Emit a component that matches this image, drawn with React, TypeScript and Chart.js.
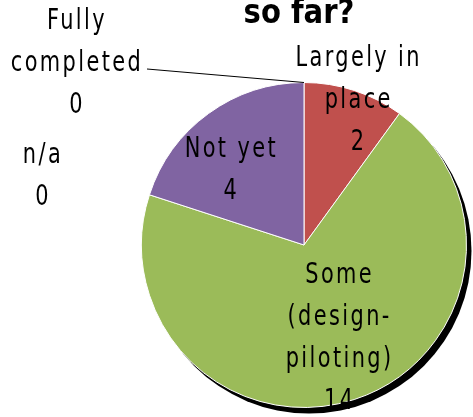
import React, { useEffect, useRef } from "react";
import { Chart, registerables } from "chart.js";

Chart.register(...registerables);

const categories = ["Fully completed", "Largely in place", "Some (design-piloting)", "Not yet", "n/a"];
const values = [0, 2, 14, 4, 0];
const labelLines = [
  ["Fully", "completed", "0"],
  ["Largely in", "place", "2"],
  ["Some", "(design-", "piloting)", "14"],
  ["Not yet", "4"],
  ["n/a", "0"],
];
const colors = ["#4F81BD", "#C0504D", "#9BBB59", "#8064A2", "#4BACC6"];
const titleText = "so far?";

const LABEL_FONT = "29px 'DejaVu Sans Condensed', sans-serif";
const LABEL_SCALE = 0.8;
const TITLE_FONT = "bold 34px 'DejaVu Sans Condensed', sans-serif";
const TITLE_SCALE = 0.95;
const LINE_H = 42;

// label placement: radial factor + pixel nudge for non-zero slices; anchor for zero slices
const labelPlace: Record<number, { f?: number; dx: number; dy: number; abs?: boolean }> = {
  0: { abs: true, dx: 77, dy: 63 },
  1: { f: 0.97, dx: 6, dy: 5 },
  2: { f: 0.59, dx: 6, dy: 2 },
  3: { f: 0.656, dx: -10, dy: 12 },
  4: { abs: true, dx: 43, dy: 176 },
};

const overlay = {
  id: "overlay",
  beforeDatasetsDraw(chart: any) {
    const arc = chart.getDatasetMeta(0).data[0];
    if (!arc) return;
    const { x, y, outerRadius } = arc.getProps(["x", "y", "outerRadius"], true);
    const ctx = chart.ctx;
    ctx.save();
    ctx.fillStyle = "#000";
    ctx.beginPath();
    ctx.arc(x + 5, y + 6, outerRadius, 0, Math.PI * 2);
    ctx.fill();
    ctx.restore();
  },
  afterDraw(chart: any) {
    const ctx = chart.ctx;
    const meta = chart.getDatasetMeta(0);
    const a0 = meta.data[0];
    const { x: cx, y: cy, outerRadius: r } = a0.getProps(["x", "y", "outerRadius"], true);
    ctx.save();
    // title
    ctx.font = TITLE_FONT;
    (ctx as any).letterSpacing = "0px";
    ctx.fillStyle = "#000";
    ctx.textAlign = "center";
    ctx.textBaseline = "alphabetic";
    ctx.save();
    ctx.translate(299, 23);
    ctx.scale(TITLE_SCALE, 1);
    ctx.fillText(titleText, 0, 0);
    ctx.restore();

    // leader line for the first (zero) slice
    ctx.strokeStyle = "#000";
    ctx.lineWidth = 1;
    ctx.beginPath();
    ctx.moveTo(147, 69);
    ctx.lineTo(cx, cy - r);
    ctx.stroke();

    ctx.font = LABEL_FONT;
    (ctx as any).letterSpacing = "3px";
    ctx.textBaseline = "middle";
    meta.data.forEach((el: any, i: number) => {
      const p = labelPlace[i];
      let px: number, py: number;
      if (p.abs) {
        px = p.dx;
        py = p.dy;
      } else {
        const { startAngle, endAngle } = el.getProps(["startAngle", "endAngle"], true);
        const mid = (startAngle + endAngle) / 2;
        px = cx + Math.cos(mid) * r * (p.f as number) + p.dx;
        py = cy + Math.sin(mid) * r * (p.f as number) + p.dy;
      }
      const lines = labelLines[i];
      const top = py - ((lines.length - 1) * LINE_H) / 2;
      lines.forEach((t, k) => {
        ctx.save();
        ctx.translate(px, top + k * LINE_H);
        ctx.scale(LABEL_SCALE, 1);
        ctx.fillText(t, 0, 0);
        ctx.restore();
      });
    });
    ctx.restore();
  },
};

export default function App() {
  const ref = useRef<HTMLCanvasElement | null>(null);
  useEffect(() => {
    if (!ref.current) return;
    const chart = new Chart(ref.current, {
      type: "pie",
      data: {
        labels: categories,
        datasets: [
          {
            data: values,
            backgroundColor: colors,
            borderColor: "#FFFFFF",
            borderWidth: 1,
          },
        ],
      },
      options: {
        responsive: false,
        animation: false,
        layout: { padding: { left: 141, top: 82, right: 6, bottom: 9 } },
        plugins: {
          legend: { display: false },
          title: { display: false },
          tooltip: { enabled: false },
        },
      },
      plugins: [overlay],
    });
    return () => chart.destroy();
  }, []);
  return (
    <div style={{ position: "absolute", left: 0, top: 0, width: 473, height: 417, background: "#fff" }}>
      <canvas ref={ref} width={473} height={417} />
    </div>
  );
}
